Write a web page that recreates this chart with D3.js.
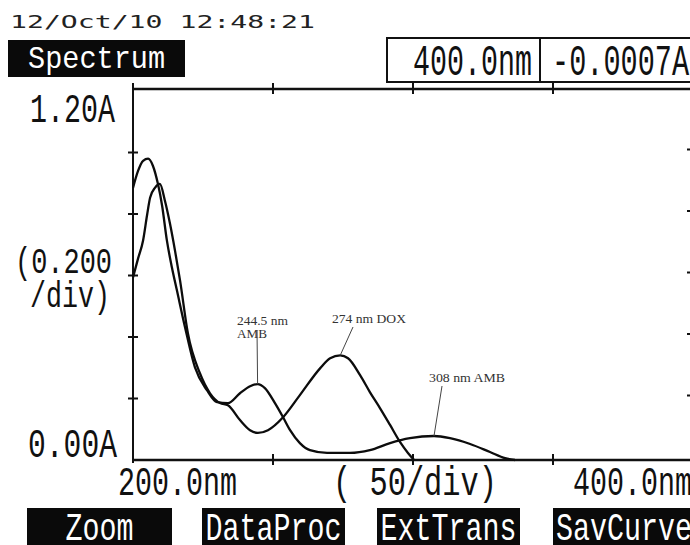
<!DOCTYPE html>
<html>
<head>
<meta charset="utf-8">
<script src="https://cdn.jsdelivr.net/npm/d3@7"></script>
<style>
  body { margin: 0; background: #fff; }
  svg { display: block; }
</style>
</head>
<body>
<svg id="chart" width="690" height="545"></svg>
<script>
// spectrum values (nm, absorbance)
const ambWave = [200, 201.8, 203.6, 205.4, 207.1, 208.9, 210.4, 212.1, 213.9, 215.7, 218.6, 222.1, 226.4, 230, 233.9, 238.2, 241.8, 244.5, 247.1, 250.7, 253.6, 256.1, 259.6, 263.2, 269.3, 277.5, 284.6, 291.8, 298.9, 307.5, 313.2, 320.4, 327.5, 332.9, 336.4]
const ambAbs  = [0.885, 0.94, 0.973, 0.98, 0.957, 0.898, 0.827, 0.714, 0.626, 0.551, 0.431, 0.302, 0.227, 0.188, 0.185, 0.217, 0.24, 0.247, 0.234, 0.185, 0.139, 0.097, 0.055, 0.032, 0.023, 0.023, 0.032, 0.055, 0.071, 0.078, 0.071, 0.052, 0.026, 0.006, 0.0]

const doxWave = [200, 201.8, 203.6, 205, 206.1, 207.9, 209.6, 211.4, 213.2, 215, 216.8, 219.6, 223.9, 227.5, 231.1, 233.9, 238.2, 241.8, 244.6, 248.2, 253.6, 259.6, 266.8, 270.4, 274, 276.8, 281.1, 284.6, 288.2, 291.8, 295.4, 298.2, 300.4]
const doxAbs  = [0.594, 0.655, 0.714, 0.795, 0.853, 0.886, 0.898, 0.843, 0.769, 0.681, 0.584, 0.412, 0.282, 0.217, 0.185, 0.178, 0.13, 0.097, 0.088, 0.097, 0.139, 0.211, 0.298, 0.331, 0.34, 0.331, 0.276, 0.221, 0.169, 0.114, 0.058, 0.023, 0.0]

const xTicks = [250, 300, 350]
const yTicks = [0.2, 0.4, 0.6, 0.8, 1.0]
const peakLabels = [
    {wave: 244.5, abs: 0.247, lines: ["244.5 nm", "AMB"]},
    {wave: 274, abs: 0.34, lines: ["274 nm DOX"]},
    {wave: 307.5, abs: 0.078, lines: ["308 nm AMB"]}
]
const buttons = ["Zoom", "DataProc", "ExtTrans", "SavCurve"]

let config = {
    left: 133,
    right: 693,
    top: 91,
    bottom: 460
}

const svg = d3.select("#chart")

var x = d3.scaleLinear()
    .domain([200, 400])
    .range([config.left, config.right])

var y = d3.scaleLinear()
    .domain([0, 1.2])
    .range([config.bottom, config.top])

// LCD style text: tall, narrow glyphs squeezed into a fixed width
function lcd(str, px, base, size, width, fill){
    return svg.append("text")
        .attr("x", px)
        .attr("y", base)
        .attr("font-family", "Liberation Mono")
        .attr("font-size", size)
        .attr("textLength", width)
        .attr("lengthAdjust", "spacingAndGlyphs")
        .attr("fill", fill || "#111")
        .text(str)
}

// header
svg.append("text")
    .attr("x", 10).attr("y", 28)
    .attr("font-family", "DejaVu Sans Mono")
    .attr("font-size", 18)
    .attr("textLength", 305)
    .attr("lengthAdjust", "spacingAndGlyphs")
    .attr("fill", "#222")
    .text("12/Oct/10 12:48:21")

svg.append("rect").attr("x", 8).attr("y", 40).attr("width", 177).attr("height", 37).attr("fill", "#0a0a0a")
lcd("Spectrum", 28, 68, 32, 137, "#fff")

svg.append("rect").attr("x", 387).attr("y", 38).attr("width", 320).attr("height", 44)
    .attr("fill", "none").attr("stroke", "#111").attr("stroke-width", 2)
svg.append("line").attr("x1", 540).attr("x2", 540).attr("y1", 38).attr("y2", 82)
    .attr("stroke", "#111").attr("stroke-width", 2)
lcd("400.0nm", 413, 75, 44, 119)
lcd("-0.0007A", 552, 75, 44, 137)

// frame
const frame = svg.append("g").attr("stroke", "#111").attr("fill", "none")
frame.append("line").attr("x1", x(200)).attr("x2", x(400)).attr("y1", y(1.2) - 2).attr("y2", y(1.2) - 2).attr("stroke-width", 2.5)
frame.append("line").attr("x1", x(200)).attr("x2", x(200)).attr("y1", y(1.2) - 8).attr("y2", y(0) + 3).attr("stroke-width", 2)
frame.append("line").attr("x1", x(200)).attr("x2", x(400)).attr("y1", y(0)).attr("y2", y(0)).attr("stroke-width", 2.5)

frame.selectAll(".ytick").data(yTicks).join("line")
    .attr("x1", x(200) - 5).attr("x2", x(200) + 5)
    .attr("y1", d => y(d)).attr("y2", d => y(d))
    .attr("stroke-width", 2)
frame.selectAll(".rtick").data(yTicks).join("line")
    .attr("x1", x(400) - 6).attr("x2", x(400))
    .attr("y1", d => y(d) - 3).attr("y2", d => y(d) - 3)
    .attr("stroke-width", 2)
frame.selectAll(".xtick").data(xTicks).join("line")
    .attr("x1", d => x(d)).attr("x2", d => x(d))
    .attr("y1", y(0) - 6).attr("y2", y(0) + 5)
    .attr("stroke-width", 2)
frame.selectAll(".ttick").data(xTicks).join("line")
    .attr("x1", d => x(d)).attr("x2", d => x(d))
    .attr("y1", y(1.2) - 8).attr("y2", y(1.2) + 3)
    .attr("stroke-width", 2)

// axis labels
lcd("1.20A", 30, 122, 41, 85)
lcd("(0.200", 15, 273, 37, 97)
lcd("/div)", 30, 307, 37, 80)
lcd("0.00A", 28, 457, 40, 89)
lcd("200.0nm", 118, 495, 40, 119)
lcd("(  50/div)", 333, 495, 40, 164)
lcd("400.0nm", 573, 495, 40, 119)

// spectra
const line = d3.line()
    .curve(d3.curveMonotoneX)
    .x(d => x(d[0]))
    .y(d => y(d[1]))

const series = [
    d3.zip(ambWave, ambAbs),
    d3.zip(doxWave, doxAbs)
]

svg.append("g").selectAll("path").data(series).join("path")
    .attr("d", line)
    .attr("fill", "none")
    .attr("stroke", "#0c0c0c")
    .attr("stroke-width", 2.3)
    .attr("stroke-linejoin", "round")

// peak annotations
const notes = svg.append("g")
    .attr("font-family", "Liberation Serif")
    .attr("font-size", 12.5)
    .attr("fill", "#333")

// text position, text widths and leader top for each label
const labelPos = [
    {tx: 237, ty: 325, w: [51, 30], lx: 257, ly: 330},
    {tx: 332, ty: 323, w: [74], lx: 353, ly: 327},
    {tx: 429, ty: 382, w: [76], lx: 442, ly: 386}
]
peakLabels.forEach((p, i) => {
    const pos = labelPos[i]
    p.lines.forEach((t, j) => {
        notes.append("text")
            .attr("x", pos.tx).attr("y", pos.ty + j * 13)
            .attr("textLength", pos.w[j])
            .attr("lengthAdjust", "spacingAndGlyphs")
            .text(t)
    })
    notes.append("line")
        .attr("x1", pos.lx).attr("y1", pos.ly)
        .attr("x2", x(p.wave)).attr("y2", y(p.abs))
        .attr("stroke", "#444").attr("stroke-width", 1)
})

// soft keys
const btnBox = [[27, 172], [202, 345], [377, 520], [553, 700]]
buttons.forEach((b, i) => {
    const [a, e] = btnBox[i]
    svg.append("rect").attr("x", a).attr("y", 508).attr("width", e - a).attr("height", 40).attr("fill", "#0a0a0a")
    const w = b.length * 17
    const cx = i == 3 ? 556 : (a + e) / 2 - w / 2
    lcd(b, cx, 540, 38, w, "#fff")
})
</script>
</body>
</html>
